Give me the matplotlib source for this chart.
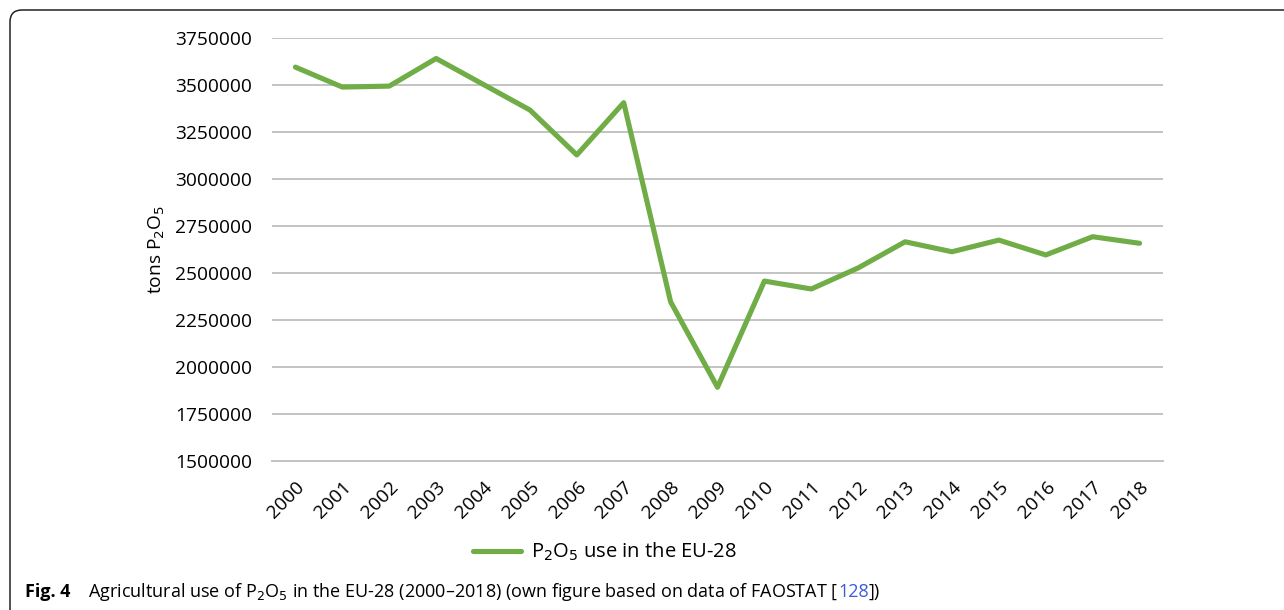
import matplotlib
matplotlib.use("Agg")
import matplotlib.pyplot as plt
from matplotlib.path import Path
from matplotlib.patches import PathPatch

years = [str(y) for y in range(2000, 2019)]
p2o5_use = [3595000, 3489000, 3494000, 3641000, 3504000, 3367000, 3128000,
            3406000, 2347000, 1892000, 2457000, 2415000, 2527000, 2666000,
            2613000, 2675000, 2596000, 2693000, 2658000]
y_ticks = [1500000, 1750000, 2000000, 2250000, 2500000, 2750000, 3000000,
           3250000, 3500000, 3750000]

W, H = 1284, 610
fig = plt.figure(figsize=(W / 100, H / 100), dpi=100)
ax = fig.add_axes([272 / W, 1 - 461 / H, (1163 - 272) / W, (461 - 38) / H])

tick_font = ["Open Sans", "DejaVu Sans"]
cond_font = ["Open Sans", "DejaVu Sans"]

x = list(range(len(years)))
line, = ax.plot(x, p2o5_use, color="#70ad47", lw=3.7, solid_joinstyle="round",
                solid_capstyle="round", label=r"P$_2$O$_5$ use in the EU-28", zorder=3)

ax.set_xlim(-0.5, len(years) - 0.5)
ax.set_ylim(y_ticks[0], y_ticks[-1])
ax.set_yticks(y_ticks)
ax.set_yticklabels([str(v) for v in y_ticks], fontfamily=tick_font, fontsize=13.8)
ax.set_xticks(x)
ax.set_xticklabels(years, rotation=45, ha="right", rotation_mode="anchor",
                   fontfamily=tick_font, fontsize=13.8)
ax.tick_params(axis="both", length=0)
ax.tick_params(axis="y", pad=14.5)
ax.tick_params(axis="x", pad=12)
ax.grid(axis="y", color="#c3c3c3", lw=1.4)
ax.set_axisbelow(True)
for s in ["top", "right", "left"]:
    ax.spines[s].set_visible(False)
ax.spines["bottom"].set_color("#c3c3c3")
ax.spines["bottom"].set_linewidth(1.4)

ax.set_ylabel(r"tons P$_2$O$_5$", fontfamily=tick_font, fontsize=13.8)
ax.yaxis.set_label_coords((167 - 272) / 891, 0.5)

fig.legend(handles=[line], loc="center", bbox_to_anchor=(605 / W, 1 - 552 / H),
           frameon=False, prop={"family": cond_font, "size": 14.5},
           handlelength=2.4, handletextpad=0.5)

# caption
cy = 1 - 592 / H
fig.text(25 / W, cy, "Fig. 4", fontfamily=cond_font, fontweight="bold",
         fontsize=13, va="center", ha="left")
t = fig.text(88 / W, cy,
             r"Agricultural use of P$_2$O$_5$ in the EU-28 (2000–2018) (own figure based on data of FAOSTAT [",
             fontfamily=cond_font, fontsize=13, va="center", ha="left")
fig.canvas.draw()
bb = t.get_window_extent()
t2 = fig.text(bb.x1 / W, cy, "128", color="#3b5bdb",
              fontfamily=cond_font, fontsize=13, va="center", ha="left")
fig.canvas.draw()
bb2 = t2.get_window_extent()
fig.text(bb2.x1 / W, cy, "])", fontfamily=cond_font, fontsize=13,
         va="center", ha="left")

# border (top and left, rounded top-left corner)
r = 12
verts = [(10, H - 610), (10, H - 10 - r), (10, H - 10), (10 + r, H - 10), (W + 5, H - 10)]
codes = [Path.MOVETO, Path.LINETO, Path.CURVE3, Path.CURVE3, Path.LINETO]
verts = [(vx / W, vy / H) for vx, vy in verts]
fig.patches.append(PathPatch(Path(verts, codes), transform=fig.transFigure,
                             fill=False, edgecolor="#222222", lw=1.1))

fig.savefig("out.png", dpi=100)
